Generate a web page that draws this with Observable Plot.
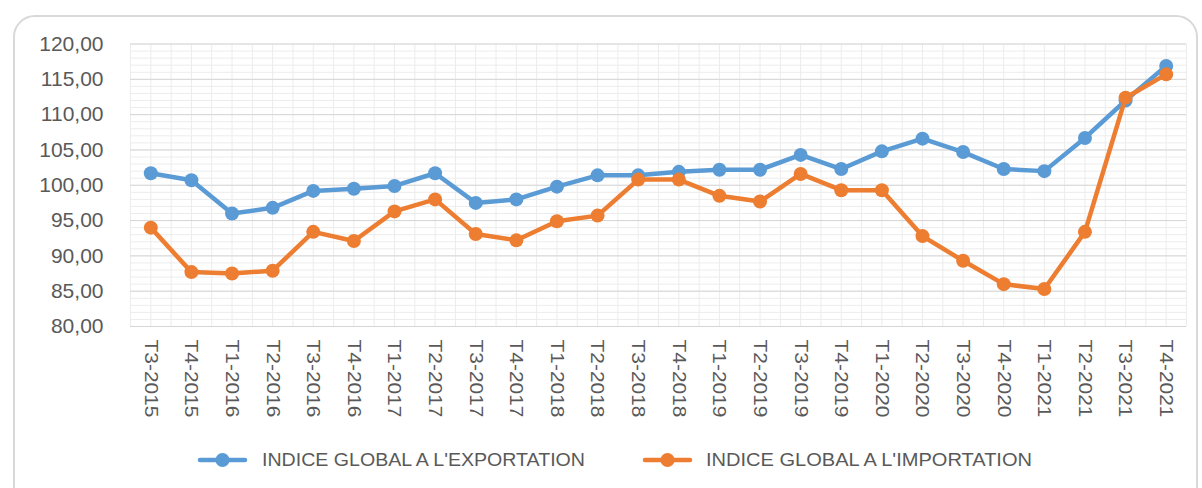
<!DOCTYPE html>
<html>
<head>
<meta charset="utf-8">
<script src="https://cdn.jsdelivr.net/npm/d3@7"></script>
<script src="https://cdn.jsdelivr.net/npm/@observablehq/plot@0.6"></script>
<style>
  html, body { margin: 0; padding: 0; background: #ffffff; }
  #wrap { position: relative; width: 1202px; height: 488px; overflow: hidden; background: #fff; }
  #card { position: absolute; left: 13px; top: 15px; width: 1185px; height: 500px;
          border: 2px solid #d9d9d9; border-radius: 22px; box-sizing: border-box; }
  #chart { position: absolute; left: 0; top: 0; }
  #legend { position: absolute; left: 0; top: 440px; width: 1202px; height: 40px; }
</style>
</head>
<body>
<div id="wrap">
  <div id="card"></div>
  <div id="chart"></div>
  <svg id="legend" width="1202" height="40"></svg>
</div>
<script>
const categories = ["T3-2015","T4-2015","T1-2016","T2-2016","T3-2016","T4-2016","T1-2017","T2-2017",
  "T3-2017","T4-2017","T1-2018","T2-2018","T3-2018","T4-2018","T1-2019","T2-2019","T3-2019","T4-2019",
  "T1-2020","T2-2020","T3-2020","T4-2020","T1-2021","T2-2021","T3-2021","T4-2021"];
const exportValues = [101.7,100.7,96.0,96.8,99.2,99.5,99.9,101.7,97.5,98.0,99.8,101.4,101.4,101.9,
  102.2,102.2,104.3,102.3,104.8,106.6,104.7,102.3,102.0,106.7,112.0,116.9];
const importValues = [94.0,87.7,87.5,87.9,93.4,92.1,96.3,98.0,93.1,92.2,94.9,95.7,100.8,100.8,
  98.5,97.7,101.6,99.3,99.3,92.8,89.3,86.0,85.3,93.4,112.4,115.7];
const yTicks = [80,85,90,95,100,105,110,115,120];
const seriesNames = ["INDICE GLOBAL A L'EXPORTATION","INDICE GLOBAL A L'IMPORTATION"];
const seriesColors = ["#5B9BD5","#ED7D31"];

const exportRows = categories.map((c, i) => ({i, c, v: exportValues[i]}));
const importRows = categories.map((c, i) => ({i, c, v: importValues[i]}));
const fmt = d => d.toFixed(2).replace(".", ",");

const chart = Plot.plot({
  width: 1202,
  height: 430,
  marginLeft: 130,
  marginRight: 16,
  marginTop: 43.5,
  marginBottom: 104,
  style: {fontFamily: "'Liberation Sans', Arial, sans-serif", color: "#595959", background: "transparent"},
  x: {type: "linear", domain: [-0.5, categories.length - 0.5]},
  y: {domain: [80, 120]},
  marks: [
    Plot.ruleY(d3.range(80, 121, 1), {stroke: "#ececec", strokeWidth: 1}),
    Plot.ruleX(d3.range(-0.5, categories.length, 0.5), {stroke: "#ececec", strokeWidth: 1}),
    Plot.ruleY(yTicks, {stroke: "#d6d6d6", strokeWidth: 1}),
    Plot.axisY({ticks: yTicks, tickFormat: fmt, tickSize: 0, tickPadding: 27, fontSize: 21, label: null, fill: "#595959"}),
    Plot.axisX({ticks: d3.range(categories.length), tickFormat: i => categories[i], tickRotate: 90,
      tickSize: 0, tickPadding: 13, fontSize: 19, label: null, fill: "#595959"}),
    Plot.lineY(exportRows, {x: "i", y: "v", stroke: seriesColors[0], strokeWidth: 4.5}),
    Plot.dot(exportRows, {x: "i", y: "v", r: 7, fill: seriesColors[0]}),
    Plot.lineY(importRows, {x: "i", y: "v", stroke: seriesColors[1], strokeWidth: 4.5}),
    Plot.dot(importRows, {x: "i", y: "v", r: 7, fill: seriesColors[1]})
  ]
});
document.getElementById("chart").appendChild(chart);
// stretch rotated x labels to match the reference's taller glyphs
d3.select(chart).selectAll("g[aria-label='x-axis tick label'] text")
  .attr("textLength", 78).attr("lengthAdjust", "spacingAndGlyphs");

// legend
const lg = d3.select("#legend");
const items = [{x: 200, tx: 262}, {x: 645, tx: 706}];
items.forEach((it, k) => {
  const g = lg.append("g");
  g.append("line").attr("x1", it.x).attr("x2", it.x + 45).attr("y1", 20).attr("y2", 20)
    .attr("stroke", seriesColors[k]).attr("stroke-width", 4.5).attr("stroke-linecap", "round");
  g.append("circle").attr("cx", it.x + 22.5).attr("cy", 20).attr("r", 7).attr("fill", seriesColors[k]);
  g.append("text").attr("x", it.tx).attr("y", 20).attr("dy", "0.35em")
    .attr("font-family", "'Liberation Sans', Arial, sans-serif").attr("font-size", 18)
    .attr("fill", "#595959").attr("textLength", k === 0 ? 323 : 326).attr("lengthAdjust", "spacingAndGlyphs")
    .text(seriesNames[k]);
});
</script>
</body>
</html>
